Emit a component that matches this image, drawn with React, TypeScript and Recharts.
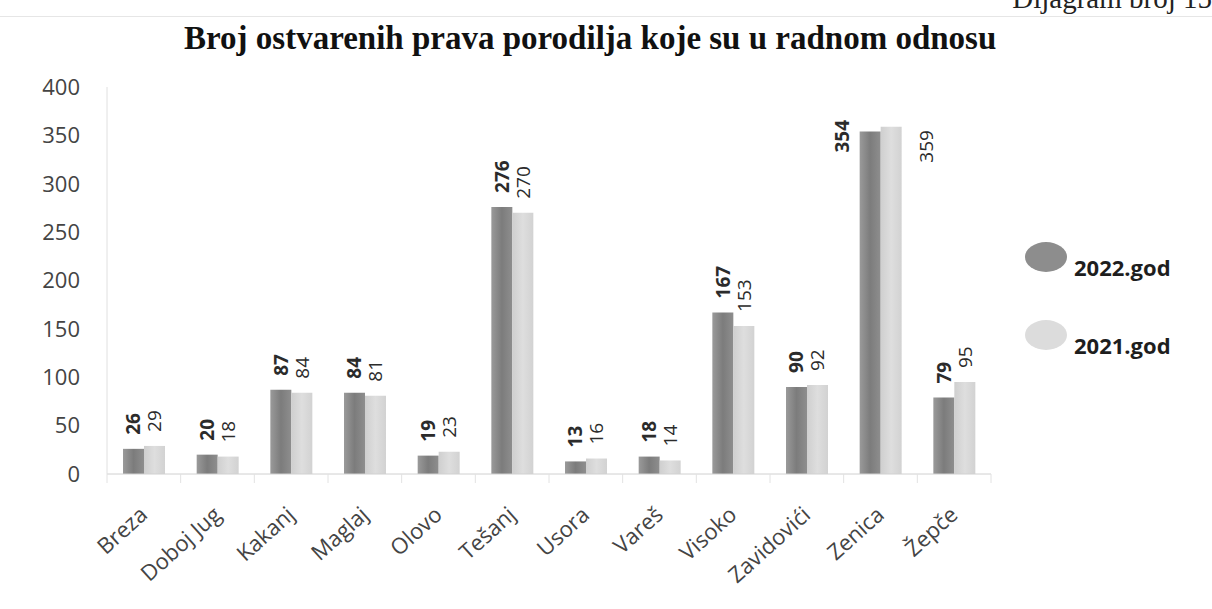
import React from "react";
import { BarChart, Bar, XAxis, YAxis, LabelList } from "recharts";

const MUNICIPALITIES = [
  "Breza",
  "Doboj Jug",
  "Kakanj",
  "Maglaj",
  "Olovo",
  "Tešanj",
  "Usora",
  "Vareš",
  "Visoko",
  "Zavidovići",
  "Zenica",
  "Žepče",
];
const VALUES_2022 = [26, 20, 87, 84, 19, 276, 13, 18, 167, 90, 354, 79];
const VALUES_2021 = [29, 18, 84, 81, 23, 270, 16, 14, 153, 92, 359, 95];
const Y_TICKS = [0, 50, 100, 150, 200, 250, 300, 350, 400];

const data = MUNICIPALITIES.map((name, i) => ({
  name,
  y2022: VALUES_2022[i],
  y2021: VALUES_2021[i],
}));

const LABEL_FONT = "'Open Sans', 'DejaVu Sans', sans-serif";

// value labels read bottom-to-top; the tallest pair gets pushed to the sides
function makeValueLabel(bold: boolean, side: "left" | "right") {
  return (props: any) => {
    const { x, y, width, value } = props;
    let cx = x + width / 2;
    let by = y - 14;
    if (value > 340) {
      if (side === "left") {
        cx = x - 18;
        by = y + 21;
      } else {
        cx = x + width + 24;
        by = y + 36;
      }
    }
    return (
      <text
        x={cx}
        y={by}
        transform={`rotate(-90, ${cx}, ${by})`}
        textAnchor="start"
        dominantBaseline="central"
        fontFamily={LABEL_FONT}
        fontSize={19}
        fontWeight={bold ? 700 : 400}
        fill="#2b2b2b"
      >
        {value}
      </text>
    );
  };
}

function CategoryTick(props: any) {
  const { x, y, payload, index } = props;
  const half = Number(payload?.offset) || 0;
  const ax = x - 1;
  const ay = y + 36;
  return (
    <g>
      {half > 0 && (
        <line x1={x - half} y1={y} x2={x - half} y2={y + 9} stroke="#e2e2e2" />
      )}
      {half > 0 && index === MUNICIPALITIES.length - 1 && (
        <line x1={x + half} y1={y} x2={x + half} y2={y + 9} stroke="#e2e2e2" />
      )}
      <text
        x={ax}
        y={ay}
        transform={`rotate(-42, ${ax}, ${ay})`}
        textAnchor="end"
        dominantBaseline="central"
        fontFamily={LABEL_FONT}
        fontSize={22}
        fill="#444"
      >
        {payload.value}
      </text>
    </g>
  );
}

function LegendBox() {
  const items = [
    { label: "2022.god", fill: "#8d8d8d" },
    { label: "2021.god", fill: "#dcdcdc" },
  ];
  return (
    <div style={{ display: "flex", flexDirection: "column", gap: 40 }}>
      {items.map((it) => (
        <div key={it.label} style={{ position: "relative", height: 38, width: 190 }}>
          <svg width={46} height={34} style={{ position: "absolute", left: 0, top: 0 }}>
            <ellipse cx={22} cy={16} rx={21} ry={15} fill={it.fill} />
          </svg>
          <span
            style={{
              position: "absolute",
              left: 50,
              top: 11,
              fontFamily: LABEL_FONT,
              fontWeight: 700,
              fontSize: 22,
              color: "#1e1e1e",
              whiteSpace: "nowrap",
            }}
          >
            {it.label}
          </span>
        </div>
      ))}
    </div>
  );
}

export default function App() {
  return (
    <div
      style={{
        position: "absolute",
        left: 0,
        top: 0,
        width: 1212,
        height: 609,
        background: "#fff",
        overflow: "hidden",
      }}
    >
      <div
        style={{
          position: "absolute",
          right: 0,
          top: -18,
          fontFamily: "'Liberation Serif', serif",
          fontSize: 29,
          color: "#222",
          whiteSpace: "nowrap",
        }}
      >
        Dijagram broj 15
      </div>
      <div
        style={{
          position: "absolute",
          left: 0,
          top: 16,
          width: 1212,
          height: 1,
          background: "#e6e6e6",
        }}
      />
      <div
        style={{
          position: "absolute",
          left: 184,
          top: 20,
          fontFamily: "'Liberation Serif', serif",
          fontWeight: 700,
          fontSize: 33,
          color: "#111",
          whiteSpace: "nowrap",
        }}
      >
        Broj ostvarenih prava porodilja koje su u radnom odnosu
      </div>
      <div style={{ position: "absolute", left: 1024, top: 241 }}>
        <LegendBox />
      </div>
      <BarChart
        width={1212}
        height={609}
        data={data}
        margin={{ top: 87, right: 221, bottom: 105, left: 0 }}
        barGap={0}
        barSize={21}
      >
        <defs>
          <linearGradient id="dark" x1="0" y1="0" x2="1" y2="0">
            <stop offset="0%" stopColor="#9a9a9a" />
            <stop offset="50%" stopColor="#7c7c7c" />
            <stop offset="100%" stopColor="#8e8e8e" />
          </linearGradient>
          <linearGradient id="light" x1="0" y1="0" x2="1" y2="0">
            <stop offset="0%" stopColor="#cfcfcf" />
            <stop offset="50%" stopColor="#dedede" />
            <stop offset="100%" stopColor="#d2d2d2" />
          </linearGradient>
        </defs>
        <XAxis
          dataKey="name"
          interval={0}
          height={30}
          axisLine={{ stroke: "#d0d0d0" }}
          tickLine={false}
          tickSize={0}
          tickMargin={0}
          tick={<CategoryTick />}
        />
        <YAxis
          width={107}
          domain={[0, 400]}
          ticks={Y_TICKS}
          axisLine={{ stroke: "#e0e0e0" }}
          tickLine={false}
          tickSize={0}
          tickMargin={27}
          tick={{ fontFamily: LABEL_FONT, fontSize: 22, fill: "#444" }}
        />
        <Bar dataKey="y2022" fill="url(#dark)" isAnimationActive={false}>
          <LabelList dataKey="y2022" content={makeValueLabel(true, "left")} />
        </Bar>
        <Bar dataKey="y2021" fill="url(#light)" isAnimationActive={false}>
          <LabelList dataKey="y2021" content={makeValueLabel(false, "right")} />
        </Bar>
      </BarChart>
    </div>
  );
}
